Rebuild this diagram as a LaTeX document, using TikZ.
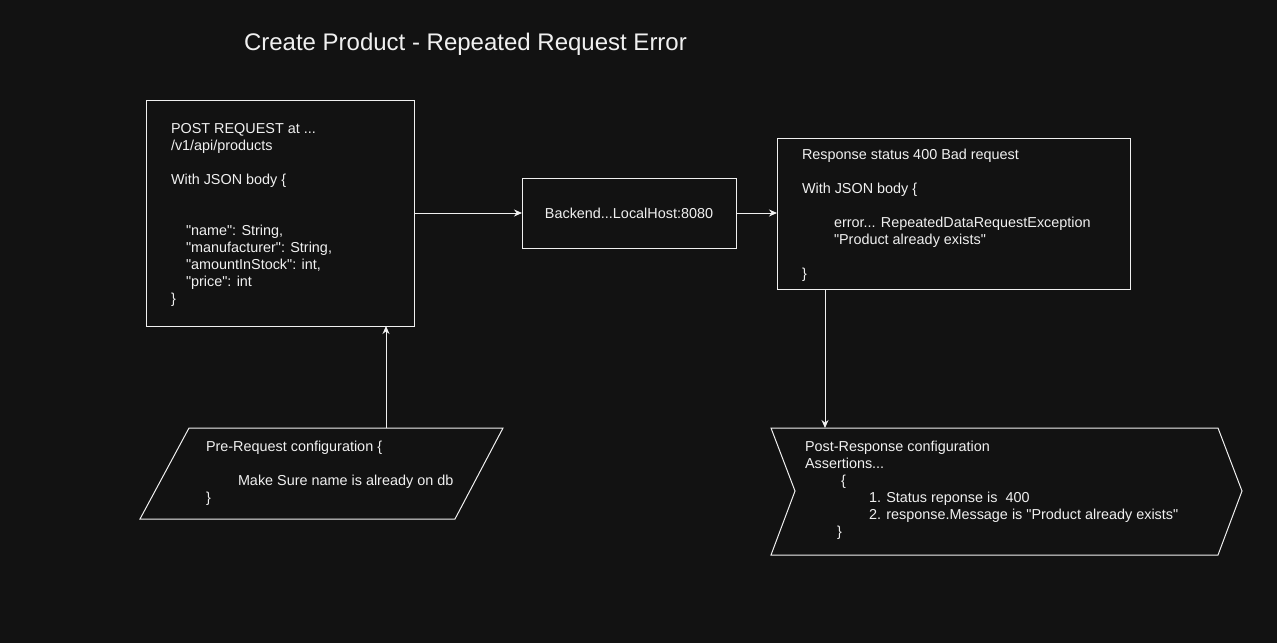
\documentclass[tikz,border=0pt]{standalone}
\usepackage{fontspec}
\setmainfont{Liberation Sans}[Ligatures=TeXOff]
\usetikzlibrary{calc,arrows.meta}

\definecolor{canvas}{HTML}{121212}
\definecolor{ink}{HTML}{F0F0F0}

\begin{document}
\begin{tikzpicture}[x=1pt,y=-1pt,every node/.style={outer sep=0pt,inner sep=0pt}]

\tikzstyle{box}=[draw=ink,fill=canvas,line width=1pt]
\tikzstyle{txt}=[text=ink,font=\fontsize{14.4}{17}\selectfont,align=left,anchor=north west]
\tikzstyle{link}=[draw=ink,line width=1pt,-{Stealth[length=8pt,width=7pt]}]

\fill[canvas] (0,0) rectangle (1277,643);
\useasboundingbox (0,0) rectangle (1277,643);

\node (title) at (244,33) [txt,font=\fontsize{24}{28}\selectfont] {Create Product - Repeated Request Error};

% boxes
\node (request) at (280,213) [box,minimum width=268,minimum height=226] {};
\node (backend) at (629,213) [box,minimum width=214,minimum height=70,text=ink,font=\fontsize{14.4}{17}\selectfont] {Backend...LocalHost:8080};
\node (response) at (953.5,213.5) [box,minimum width=353,minimum height=151] {};

\draw[box] (189,428) -- (503,428) -- (455,519) -- (140,519) -- cycle;
\coordinate (prereq) at (386,428);

\draw[box] (771,428) -- (1218,428) -- (1242,491) -- (1218,555) -- (771,555) -- (795,491) -- cycle;
\coordinate (postresp) at (825,428);

% texts
\node (requesttxt) at (171,123) [txt] {POST REQUEST at ...\\ /v1/api/products\\[17pt]
  With JSON body \{\\[34pt]
  \hspace*{15pt}"name": String,\\
  \hspace*{15pt}"manufacturer": String,\\
  \hspace*{15pt}"amountInStock": int,\\
  \hspace*{15pt}"price": int\\
  \}};
\node (responsetxt) at (802,149) [txt] {Response status 400 Bad request\\[17pt]
  With JSON body \{\\[17pt]
  \hspace*{32pt}error... RepeatedDataRequestException\\
  \hspace*{32pt}"Product already exists"\\[17pt]
  \}};
\node (prereqtxt) at (206,441) [txt] {Pre-Request configuration \{\\[17pt]
  \hspace*{32pt}Make Sure name is already on db\\
  \}};
\node (postresptxt) at (805,441) [txt] {Post-Response configuration\\
  Assertions...\\
  \hspace*{36pt}\{\\
  \hspace*{64pt}1. Status reponse is\ \ 400\\
  \hspace*{64pt}2. response.Message is "Product already exists"\\
  \hspace*{32pt}\}};

% connectors
\draw[link] (request.east) -- (backend.west);
\draw[link] (backend.east) -- (backend.east -| response.west);
\draw[link] (prereq) -- (prereq |- request.south);
\draw[link] (response.south -| postresp) -- (postresp);

\end{tikzpicture}
\end{document}
